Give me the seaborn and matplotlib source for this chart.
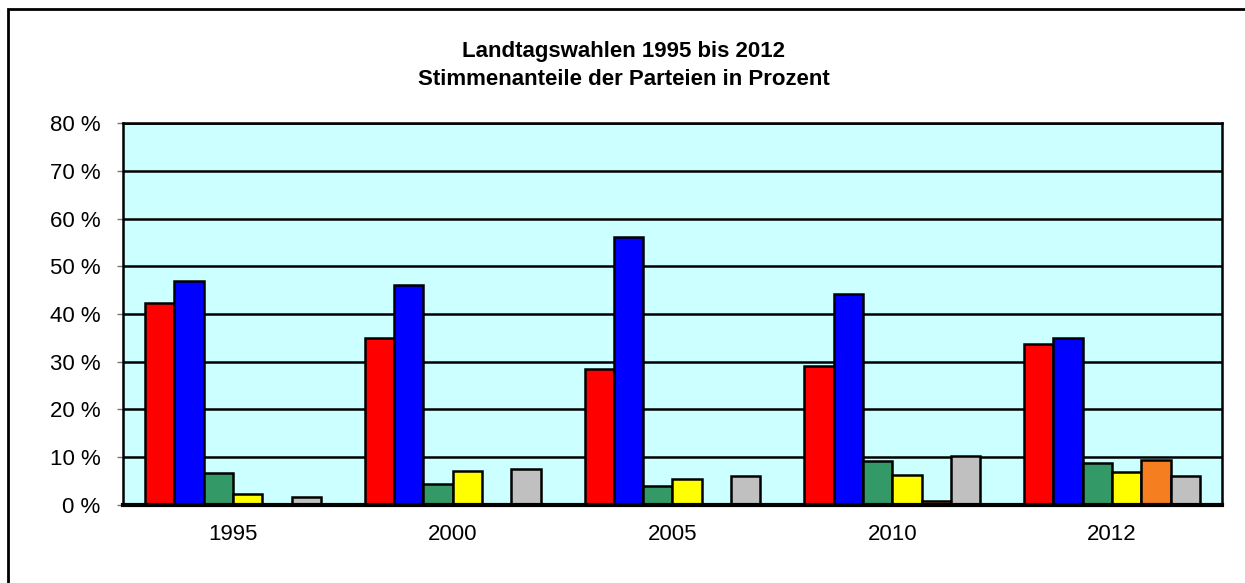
import matplotlib
matplotlib.use("Agg")
import matplotlib.pyplot as plt
from matplotlib.patches import Rectangle
import seaborn as sns
import pandas as pd

years = ["1995", "2000", "2005", "2010", "2012"]
parties = ["SPD", "CDU", "GRÜNE", "FDP", "PIRATEN", "Sonstige"]
spd = [42.2, 35.0, 28.4, 29.2, 33.8]
cdu = [47.0, 46.1, 56.2, 44.2, 35.0]
gruene = [6.8, 4.3, 4.0, 9.2, 8.7]
fdp = [2.2, 7.1, 5.4, 6.2, 6.9]
piraten = [0.0, 0.0, 0.0, 0.8, 9.4]
sonstige = [1.7, 7.6, 6.1, 10.3, 6.1]
colors = ["#FF0000", "#0000FF", "#339966", "#FFFF00", "#F47E20", "#C0C0C0"]
yticks = [0, 10, 20, 30, 40, 50, 60, 70, 80]
title = "Landtagswahlen 1995 bis 2012\nStimmenanteile der Parteien in Prozent"

series = [spd, cdu, gruene, fdp, piraten, sonstige]
rows = []
for p, vals in zip(parties, series):
    for y, v in zip(years, vals):
        rows.append({"Jahr": y, "Partei": p, "Anteil": v})
df = pd.DataFrame(rows)

sns.set_theme(style="white")
plt.rcParams["font.family"] = ["Liberation Sans", "DejaVu Sans"]
plt.rcParams["text.color"] = "black"
plt.rcParams["xtick.labelcolor"] = "black"
plt.rcParams["ytick.labelcolor"] = "black"

fig = plt.figure(figsize=(12.45, 5.83), dpi=100)
ax = fig.add_axes([0.0988, 0.1338, 0.8827, 0.6552])
ax.set_facecolor("#CCFFFF")

sns.barplot(data=df, x="Jahr", y="Anteil", hue="Partei", order=years,
            hue_order=parties, palette=colors, edgecolor="black",
            linewidth=1.8, width=0.8, saturation=1, legend=False, ax=ax,
            zorder=3)

ax.set_ylim(0, 80)
ax.set_xlim(-0.5, len(years) - 0.5)
ax.set_yticks(yticks)
ax.set_yticklabels([f"{t} %" for t in yticks], fontsize=16)
ax.set_xticks(range(len(years)))
ax.set_xticklabels(years, fontsize=16)
ax.tick_params(axis="x", length=0, pad=14)
ax.tick_params(axis="y", length=4.3, width=1, color="#777777", pad=12, left=True)
for t in yticks[1:]:
    ax.axhline(t, color="black", lw=1.8, zorder=1)
ax.set_xlabel("")
ax.set_ylabel("")
for side in ["top", "right", "left"]:
    ax.spines[side].set_color("black")
    ax.spines[side].set_linewidth(1.8)
ax.spines["bottom"].set_color("black")
ax.spines["bottom"].set_linewidth(3)
ax.spines["bottom"].set_zorder(5)

fig.text(0.501, 0.888, title, ha="center", va="center", fontsize=16,
         fontweight="bold", linespacing=1.42, color="black")

fig.patches.append(Rectangle((8 / 1245, -0.05), 1.1, 1 - 9 / 583 + 0.05,
                             transform=fig.transFigure, fill=False,
                             edgecolor="black", lw=2, zorder=0))

fig.savefig("out.png", dpi=100)
